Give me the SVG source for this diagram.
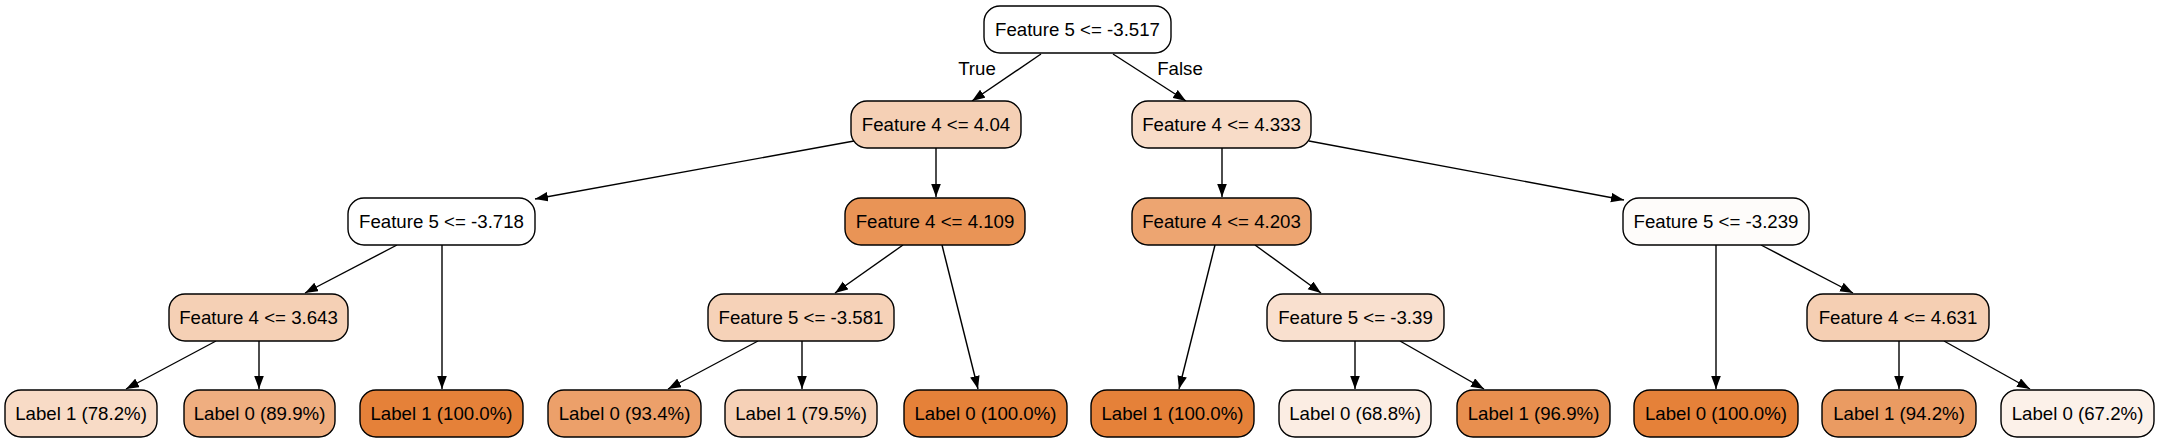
<svg xmlns="http://www.w3.org/2000/svg" width="2157" height="443" viewBox="0 0 2157 443">
<style>
.n rect{stroke:#000;stroke-width:1.4}
text{font-family:"Liberation Sans",Arial,sans-serif;font-size:18.67px;fill:#000;text-anchor:middle}
.e line{stroke:#000;stroke-width:1.4;marker-end:url(#ah)}
</style>
<defs>
<marker id="ah" markerUnits="userSpaceOnUse" markerWidth="14" markerHeight="10" refX="13" refY="4.8" orient="auto" viewBox="0 0 14 10">
<path d="M0,0 L13,4.8 L0,9.6 z" fill="#000"/>
</marker>
</defs>
<rect width="2157" height="443" fill="#fff"/>
<g id="edges" class="e">
<line x1="1041" y1="54" x2="972" y2="101"/>
<line x1="1113" y1="54" x2="1186" y2="101"/>
<line x1="854" y1="141" x2="535" y2="199"/>
<line x1="936" y1="148" x2="936" y2="197"/>
<line x1="1222" y1="148" x2="1222" y2="197"/>
<line x1="1309" y1="141" x2="1624" y2="200"/>
<line x1="397" y1="245" x2="305" y2="293"/>
<line x1="442" y1="245" x2="442" y2="389"/>
<line x1="903" y1="245" x2="835" y2="293"/>
<line x1="942" y1="245" x2="978" y2="389"/>
<line x1="1215" y1="245" x2="1179" y2="389"/>
<line x1="1255" y1="245" x2="1321" y2="293"/>
<line x1="1716" y1="245" x2="1716" y2="389"/>
<line x1="1761" y1="245" x2="1853" y2="293"/>
<line x1="216" y1="341" x2="126" y2="389"/>
<line x1="259" y1="341" x2="259" y2="389"/>
<line x1="758" y1="341" x2="668" y2="389"/>
<line x1="802" y1="341" x2="802" y2="389"/>
<line x1="1355" y1="341" x2="1355" y2="389"/>
<line x1="1400" y1="341" x2="1484" y2="389"/>
<line x1="1899" y1="341" x2="1899" y2="389"/>
<line x1="1944" y1="341" x2="2030" y2="389"/>
<text x="977" y="75">True</text>
<text x="1180" y="75">False</text>
</g>
<g id="n0" class="n"><rect x="984" y="6" width="187" height="47" rx="16" fill="#ffffff"/><text x="1077.5" y="36">Feature 5 &lt;= -3.517</text></g>
<g id="n1" class="n"><rect x="851" y="101" width="170" height="47" rx="16" fill="#f5d0b5"/><text x="936" y="131">Feature 4 &lt;= 4.04</text></g>
<g id="n2" class="n"><rect x="1132" y="101" width="179" height="47" rx="16" fill="#f8dcc8"/><text x="1221.5" y="131">Feature 4 &lt;= 4.333</text></g>
<g id="n3" class="n"><rect x="348" y="198" width="187" height="47" rx="16" fill="#ffffff"/><text x="441.5" y="228">Feature 5 &lt;= -3.718</text></g>
<g id="n4" class="n"><rect x="845" y="198" width="180" height="47" rx="16" fill="#e99456"/><text x="935" y="228">Feature 4 &lt;= 4.109</text></g>
<g id="n5" class="n"><rect x="1132" y="198" width="179" height="47" rx="16" fill="#eda571"/><text x="1221.5" y="228">Feature 4 &lt;= 4.203</text></g>
<g id="n6" class="n"><rect x="1623" y="198" width="186" height="47" rx="16" fill="#fefcfa"/><text x="1716" y="228">Feature 5 &lt;= -3.239</text></g>
<g id="n7" class="n"><rect x="169" y="294" width="179" height="47" rx="16" fill="#f5d0b5"/><text x="258.5" y="324">Feature 4 &lt;= 3.643</text></g>
<g id="n8" class="n"><rect x="708" y="294" width="186" height="47" rx="16" fill="#f6d2b8"/><text x="801" y="324">Feature 5 &lt;= -3.581</text></g>
<g id="n9" class="n"><rect x="1267" y="294" width="177" height="47" rx="16" fill="#f9e0cf"/><text x="1355.5" y="324">Feature 5 &lt;= -3.39</text></g>
<g id="n10" class="n"><rect x="1807" y="294" width="182" height="47" rx="16" fill="#f5cfb3"/><text x="1898" y="324">Feature 4 &lt;= 4.631</text></g>
<g id="l1" class="n"><rect x="5" y="390" width="152" height="47" rx="16" fill="#f8dbc6"/><text x="81" y="420">Label 1 (78.2%)</text></g>
<g id="l2" class="n"><rect x="184" y="390" width="151" height="47" rx="16" fill="#efae80"/><text x="259.5" y="420">Label 0 (89.9%)</text></g>
<g id="l3" class="n"><rect x="360" y="390" width="163" height="47" rx="16" fill="#e58139"/><text x="441.5" y="420">Label 1 (100.0%)</text></g>
<g id="l4" class="n"><rect x="548" y="390" width="153" height="47" rx="16" fill="#eca06a"/><text x="624.5" y="420">Label 0 (93.4%)</text></g>
<g id="l5" class="n"><rect x="725" y="390" width="152" height="47" rx="16" fill="#f6d1b7"/><text x="801" y="420">Label 1 (79.5%)</text></g>
<g id="l6" class="n"><rect x="904" y="390" width="163" height="47" rx="16" fill="#e58139"/><text x="985.5" y="420">Label 0 (100.0%)</text></g>
<g id="l7" class="n"><rect x="1091" y="390" width="163" height="47" rx="16" fill="#e58139"/><text x="1172.5" y="420">Label 1 (100.0%)</text></g>
<g id="l8" class="n"><rect x="1279" y="390" width="152" height="47" rx="16" fill="#fbede3"/><text x="1355" y="420">Label 0 (68.8%)</text></g>
<g id="l9" class="n"><rect x="1457" y="390" width="153" height="47" rx="16" fill="#e88f4f"/><text x="1533.5" y="420">Label 1 (96.9%)</text></g>
<g id="l10" class="n"><rect x="1634" y="390" width="164" height="47" rx="16" fill="#e58139"/><text x="1716" y="420">Label 0 (100.0%)</text></g>
<g id="l11" class="n"><rect x="1822" y="390" width="154" height="47" rx="16" fill="#ea9b62"/><text x="1899" y="420">Label 1 (94.2%)</text></g>
<g id="l12" class="n"><rect x="2001" y="390" width="153" height="47" rx="16" fill="#fcf1e9"/><text x="2077.5" y="420">Label 0 (67.2%)</text></g>
</svg>
